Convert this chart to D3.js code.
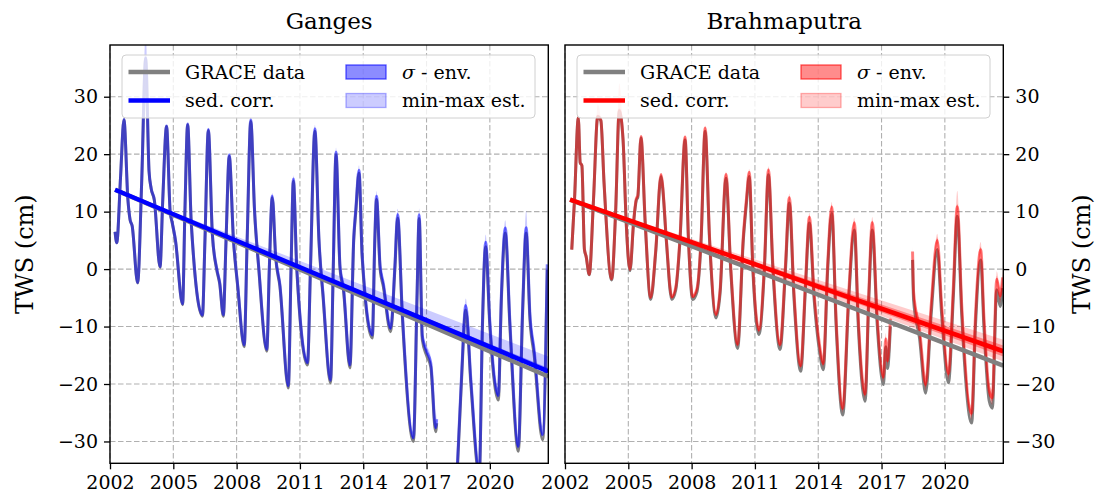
<!DOCTYPE html>
<html>
<head>
<meta charset="utf-8">
<script src="https://cdn.jsdelivr.net/npm/d3@7"></script>
<style>
  body { margin: 0; background: #fff; }
</style>
</head>
<body>
<svg id="chart" width="1099" height="500"></svg>
<script>
// GRACE TWS series (cm); null marks the GRACE / GRACE-FO gap
const gangesYears = [2002.24, 2002.32, 2002.50, 2002.66, 2002.85, 2002.95, 2003.05, 2003.31, 2003.50, 2003.69,
  2003.85, 2003.95, 2004.10, 2004.37, 2004.50, 2004.68, 2004.85, 2004.95, 2005.10, 2005.44,
  2005.55, 2005.68, 2005.85, 2006.38, 2006.50, 2006.66, 2006.85, 2007.05, 2007.20, 2007.37,
  2007.50, 2007.65, 2007.85, 2008.05, 2008.36, 2008.50, 2008.67, 2008.85, 2009.05, 2009.43,
  2009.55, 2009.69, 2009.85, 2010.05, 2010.45, 2010.58, 2010.69, 2010.85, 2011.36, 2011.50,
  2011.71, 2011.90, 2012.10, 2012.45, 2012.58, 2012.71, 2012.90, 2013.06, 2013.37, 2013.55,
  2013.65, 2013.80, 2013.95, 2014.43, 2014.55, 2014.63, 2014.80, 2014.95, 2015.30, 2015.50,
  2015.63, 2015.85, 2016.38, 2016.55, 2016.65, 2016.80, 2017.00, 2017.20, 2017.43, 2017.48,
  2017.9,
  2018.46, 2018.65, 2018.86, 2019.10, 2019.50, 2019.65, 2019.80, 2020.00, 2020.40, 2020.55,
  2020.73, 2020.95, 2021.35, 2021.55, 2021.72, 2021.90, 2022.10, 2022.50, 2022.72];
const gangesTws = [6.5, 4.6, 16, 26, 12, 8.6, 7.5, -2.4, 15, 36.7,
  17, 14, 12, 0.3, 12, 24.8, 10, 8, 5, -6.2,
  10, 25.1, 8, -8.2, 5, 24.1, 6, 0, -2.6, -8.2,
  5, 19.6, 5, -3, -13.5, 5, 25.7, 10, 0, -14.3,
  0, 12.4, 2, -3, -20.7, 0, 15.3, 0, -16.7, 0,
  24.0, 5, -5, -19.8, 0, 19.9, 0, -3.6, -17.2, 5,
  10, 16.7, 2, -12.0, 5, 12.1, 0, -3, -10.9, 0,
  8.9, -8, -30, -5, 8.8, -12.3, -15, -17, -28.3, -26.8,
  null,
  -35, -20, -7.1, -20, -36, -10, 3.9, -10, -22.8, -5,
  6.3, -10, -31.7, -8, 6.3, -8.8, -15, -29.7, -0.1];

const brahmaYears = [2002.32, 2002.45, 2002.63, 2002.72, 2002.80, 2002.92, 2003.00, 2003.15, 2003.35, 2003.55,
  2003.70, 2003.85, 2004.21, 2004.40, 2004.57, 2004.75, 2004.90, 2005.08, 2005.25, 2005.38,
  2005.45, 2005.60, 2005.80, 2006.06, 2006.30, 2006.55, 2006.62, 2006.80, 2007.06, 2007.25,
  2007.45, 2007.69, 2007.85, 2008.05, 2008.25, 2008.45, 2008.64, 2008.85, 2009.16, 2009.35,
  2009.63, 2009.85, 2010.18, 2010.45, 2010.60, 2010.73, 2010.90, 2011.19, 2011.45, 2011.64,
  2011.85, 2012.19, 2012.45, 2012.63, 2012.85, 2013.17, 2013.40, 2013.58, 2013.80, 2014.05,
  2014.24, 2014.45, 2014.64, 2014.85, 2015.16, 2015.45, 2015.71, 2015.90, 2016.22, 2016.40,
  2016.56, 2016.80, 2017.09, 2017.20, 2017.28, 2017.42,
  2017.9,
  2018.47, 2018.52, 2018.80, 2019.09, 2019.35, 2019.64, 2019.85, 2020.17, 2020.40, 2020.59,
  2020.80, 2021.27, 2021.45, 2021.70, 2021.85, 2022.10, 2022.25, 2022.46, 2022.62, 2022.74];
const brahmaTws = [3.4, 12, 26.3, 18.5, 18, 3.4, 2.2, -1.0, 12, 26.5,
  25.8, 15, -1.9, 10, 27.5, 22.5, 8, -0.3, 8, 12,
  12.5, 22.8, 8, -5.3, 3, 16.1, 14.4, 5, -5.3, -3.6,
  5, 22.5, 5, -5.3, -4, 5, 24.0, 5, -8.5, -4.2,
  15.8, 0, -13.8, 5, 11.5, 16.1, 0, -11.4, 0, 16.4,
  0, -14, 0, 11.5, -5, -17.8, -3, 8.0, -5, -14,
  -17.5, 0, 9.7, -10, -25.4, -5, 6.8, -10, -23.0, -5,
  6.8, -10, -20.1, -13.5, -17.3, -10,
  null,
  1.6, -5.5, -12, -21.6, -8, 3.4, -8, -19.8, -5, 9.2,
  -8, -26.8, -10, 1.6, -10, -22.9, -24.2, -3.6, -6.5, -3.3];

// extra height of the min-max envelope above a few peaks (cm)
const gangesSpikeYears = [2003.69, 2021.72];
const gangesSpikes = [5, 1.5];
const brahmaSpikeYears = [2003.55, 2004.57, 2020.59];
const brahmaSpikes = [2, 4.5, 1.5];

// sediment correction rates (cm/yr): [sed. corr., sigma low, sigma high, min, max]
const gangesRates = [0.045, 0.03, 0.06, 0.02, 0.12];
const brahmaRates = [0.09, 0.06, 0.12, 0.03, 0.16];

// linear trends: start / end value (cm) at trendYears
const trendYears = [2002.24, 2022.77];
const gangesTrendGrace = [13.8, -18.7];
const gangesTrendSed = [13.8, -17.8];
const gangesTrendSigma = [[13.8, -18.1], [13.8, -17.2]];
const gangesTrendMinMax = [[13.8, -18.0], [13.8, -15.2]];
const brahmaTrendGrace = [12.1, -16.8];
const brahmaTrendSed = [12.1, -14.3];
const brahmaTrendSigma = [[12.1, -15.2], [12.1, -13.3]];
const brahmaTrendMinMax = [[12.1, -16.1], [12.1, -12.3]];

const xTicks = [2002, 2005, 2008, 2011, 2014, 2017, 2020];
const yTicks = [-30, -20, -10, 0, 10, 20, 30];

const FONT = "'DejaVu Serif', 'Liberation Serif', serif";

class BasinPanel {
    constructor(svg, left, top, width, height, opts) {
        this.svg = svg;
        this.left = left;
        this.top = top;
        this.width = width;
        this.height = height;
        this.opts = opts;
    }

    initialize() {
        this.g = this.svg.append("g")
            .attr("transform", `translate(${this.left}, ${this.top})`);

        this.x = d3.scaleLinear().domain([2002, 2022.77]).range([0, this.width]);
        this.y = d3.scaleLinear().domain([-33.8, 39.0]).range([this.height, 0]);

        this.g.append("clipPath").attr("id", "clip-" + this.opts.id)
            .append("rect").attr("width", this.width).attr("height", this.height);
    }

    update(years, tws, rates, spikeYears, spikes, trend) {
        const x = this.x, y = this.y, g = this.g, color = this.opts.color;

        // grid
        const grid = g.append("g").attr("stroke", "#b0b0b0").attr("stroke-width", 1.1)
            .attr("stroke-dasharray", "5.5,2.5");
        grid.selectAll(".gx").data(xTicks).join("line")
            .attr("x1", d => x(d)).attr("x2", d => x(d)).attr("y1", 0).attr("y2", this.height);
        grid.selectAll(".gy").data(yTicks).join("line")
            .attr("y1", d => y(d)).attr("y2", d => y(d)).attr("x1", 0).attr("x2", this.width);

        const t0 = years[0];
        const pts = years.map((t, i) => ({
            t, v: tws[i],
            spike: spikeYears.includes(t) ? spikes[spikeYears.indexOf(t)] : 0
        }));
        const shift = (d, r) => d.v + r * (d.t - t0);

        const plot = g.append("g").attr("clip-path", `url(#clip-${this.opts.id})`);

        const line = d3.line().defined(d => d.v !== null)
            .x(d => x(d.t)).curve(d3.curveMonotoneX);
        const area = d3.area().defined(d => d.v !== null)
            .x(d => x(d.t)).curve(d3.curveMonotoneX);

        // GRACE data
        plot.append("path").datum(pts)
            .attr("fill", "none").attr("stroke", "#808080").attr("stroke-width", 3)
            .attr("stroke-linejoin", "round")
            .attr("d", line.y(d => y(d.v)));

        // min-max and sigma envelopes of the corrected series
        plot.append("path").datum(pts)
            .attr("fill", color).attr("fill-opacity", 0.2)
            .attr("d", area.y0(d => y(shift(d, rates[3]))).y1(d => y(shift(d, rates[4]) + d.spike)));
        plot.append("path").datum(pts)
            .attr("fill", color).attr("fill-opacity", 0.3)
            .attr("d", area.y0(d => y(shift(d, rates[1]))).y1(d => y(shift(d, rates[2]))));

        // sed. corr. data
        plot.append("path").datum(pts)
            .attr("fill", "none").attr("stroke", color).attr("stroke-width", 3)
            .attr("stroke-opacity", 0.5).attr("stroke-linejoin", "round")
            .attr("d", line.y(d => y(shift(d, rates[0]))));

        // trends
        const tl = d3.line().x(d => x(d[0])).y(d => y(d[1]));
        const tband = d3.area().x(d => x(d[0])).y0(d => y(d[1])).y1(d => y(d[2]));
        plot.append("path").datum(trendYears.map((t, i) => [t, trend.grace[i]]))
            .attr("fill", "none").attr("stroke", "#808080").attr("stroke-width", 4.5)
            .attr("d", tl);
        plot.append("path").datum(trendYears.map((t, i) => [t, trend.minmax[0][i], trend.minmax[1][i]]))
            .attr("fill", color).attr("fill-opacity", 0.2).attr("d", tband);
        plot.append("path").datum(trendYears.map((t, i) => [t, trend.sigma[0][i], trend.sigma[1][i]]))
            .attr("fill", color).attr("fill-opacity", 0.35).attr("d", tband);
        plot.append("path").datum(trendYears.map((t, i) => [t, trend.sed[i]]))
            .attr("fill", "none").attr("stroke", color).attr("stroke-width", 4.5)
            .attr("d", tl);

        // axes
        const xAxis = g.append("g").attr("transform", `translate(0, ${this.height})`)
            .call(d3.axisBottom(x).tickValues(xTicks).tickFormat(d3.format("d"))
                .tickSize(6).tickPadding(6));
        const yAxisFn = this.opts.yRight ? d3.axisRight(y) : d3.axisLeft(y);
        const yAxis = g.append("g")
            .attr("transform", this.opts.yRight ? `translate(${this.width}, 0)` : null)
            .call(yAxisFn.tickValues(yTicks).tickSize(6).tickPadding(6));
        [xAxis, yAxis].forEach(a => {
            a.select(".domain").remove();
            a.attr("font-family", FONT).attr("font-size", 19);
            a.selectAll("line").attr("stroke", "#000").attr("stroke-width", 1.3);
            a.selectAll("text").attr("fill", "#000").attr("font-family", FONT);
        });

        g.append("rect").attr("width", this.width).attr("height", this.height)
            .attr("fill", "none").attr("stroke", "#000").attr("stroke-width", 1.4);

        // title
        g.append("text").attr("x", this.width / 2).attr("y", -16)
            .attr("text-anchor", "middle").attr("font-size", 23).attr("font-family", FONT)
            .text(this.opts.title);

        // y label
        const lx = this.opts.yRight ? this.width + 87 : -77;
        g.append("text")
            .attr("transform", `translate(${lx}, ${this.height / 2}) rotate(-90)`)
            .attr("text-anchor", "middle").attr("font-size", 24).attr("font-family", FONT)
            .text("TWS (cm)");

        // legend
        const lg = g.append("g").attr("transform", "translate(12, 10)")
            .attr("font-family", FONT).attr("font-size", 19);
        lg.append("rect").attr("width", 413).attr("height", 63).attr("rx", 4)
            .attr("fill", "#fff").attr("fill-opacity", 0.8)
            .attr("stroke", "#d0d0d0").attr("stroke-width", 1);
        const lineItems = [["GRACE data", "#808080"], ["sed. corr.", color]];
        lineItems.forEach(([label, c], i) => {
            const row = lg.append("g").attr("transform", `translate(0, ${17 + i * 28.5})`);
            row.append("line").attr("x1", 6.5).attr("x2", 48).attr("stroke", c).attr("stroke-width", 4.5);
            row.append("text").attr("x", 63).attr("dy", "0.35em").text(label);
        });
        const patchItems = [[0.45, 0.65], [0.2, 0.3]];
        patchItems.forEach(([fo, so], i) => {
            const row = lg.append("g").attr("transform", `translate(0, ${17 + i * 28.5})`);
            row.append("rect").attr("x", 224).attr("y", -7).attr("width", 40).attr("height", 14)
                .attr("fill", color).attr("fill-opacity", fo)
                .attr("stroke", color).attr("stroke-opacity", so).attr("stroke-width", 1.3);
            const tx = row.append("text").attr("x", 280).attr("dy", "0.35em");
            if (i === 0) {
                tx.append("tspan").attr("font-style", "italic").text("σ");
                tx.append("tspan").text(" - env.");
            } else {
                tx.text("min-max est.");
            }
        });
    }
}

const svg = d3.select("#chart");
const ganges = new BasinPanel(svg, 110, 45, 438.3, 418.3,
    {id: "ganges", title: "Ganges", color: "#0000ff", yRight: false});
ganges.initialize();
ganges.update(gangesYears, gangesTws, gangesRates, gangesSpikeYears, gangesSpikes,
    {grace: gangesTrendGrace, sed: gangesTrendSed, sigma: gangesTrendSigma, minmax: gangesTrendMinMax});

const brahma = new BasinPanel(svg, 565, 45, 438.3, 418.3,
    {id: "brahma", title: "Brahmaputra", color: "#ff0000", yRight: true});
brahma.initialize();
brahma.update(brahmaYears, brahmaTws, brahmaRates, brahmaSpikeYears, brahmaSpikes,
    {grace: brahmaTrendGrace, sed: brahmaTrendSed, sigma: brahmaTrendSigma, minmax: brahmaTrendMinMax});
</script>
</body>
</html>
